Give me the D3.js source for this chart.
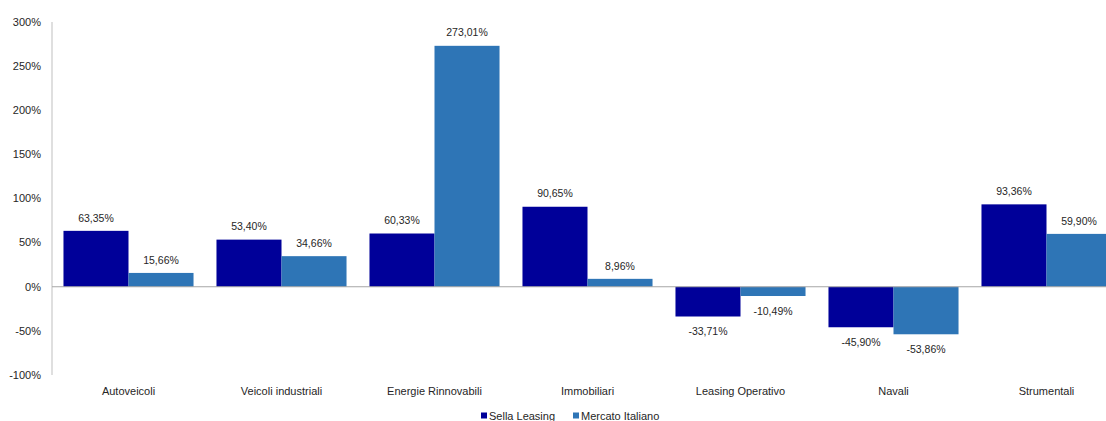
<!DOCTYPE html>
<html>
<head>
<meta charset="utf-8">
<script src="https://cdn.jsdelivr.net/npm/d3@7"></script>
<style>
  body { margin: 0; background: #fff; }
  svg { display: block; font-family: "Liberation Sans", Arial, sans-serif; }
</style>
</head>
<body>
<svg id="chart" width="1106" height="421"></svg>
<script>
// Year-on-year change by product line
const categories = ["Autoveicoli", "Veicoli industriali", "Energie Rinnovabili", "Immobiliari", "Leasing Operativo", "Navali", "Strumentali"];
const seriesNames = ["Sella Leasing", "Mercato Italiano"];
const sellaLeasing = [63.35, 53.40, 60.33, 90.65, -33.71, -45.90, 93.36];
const mercatoItaliano = [15.66, 34.66, 273.01, 8.96, -10.49, -53.86, 59.90];
const yTicks = [-100, -50, 0, 50, 100, 150, 200, 250, 300];
const colors = ["#000099", "#2E75B6"];

const svg = d3.select("#chart");
const plotLeft = 52, plotRight = 1123, plotTop = 22, plotBottom = 375;

const x = d3.scaleBand().domain(categories).range([plotLeft, plotRight])
  .paddingInner(0.15).paddingOuter(0.075);
const xs = d3.scaleBand().domain(seriesNames).range([0, x.bandwidth()]);
const y = d3.scaleLinear().domain([-100, 300]).range([plotBottom, plotTop]);

// Italian-style number: comma decimal, plain hyphen minus
const fmt = v => d3.format(".2f")(v).replace(".", ",").replace("\u2212", "-") + "%";

// y axis labels
svg.append("g").selectAll("text").data(yTicks).join("text")
  .attr("x", plotLeft - 11).attr("y", d => y(d)).attr("dy", "0.35em")
  .attr("text-anchor", "end").attr("font-size", 11).attr("fill", "#262626")
  .text(d => d + "%");

// bars
const rows = categories.map((c, i) => ({ c, vals: [sellaLeasing[i], mercatoItaliano[i]] }));
const groups = svg.append("g").selectAll("g").data(rows).join("g")
  .attr("transform", d => `translate(${x(d.c)},0)`);

groups.selectAll("rect").data(d => d.vals.map((v, j) => ({ v, j })))
  .join("rect")
  .attr("x", d => xs(seriesNames[d.j]))
  .attr("width", xs.bandwidth())
  .attr("y", d => y(Math.max(0, d.v)))
  .attr("height", d => Math.abs(y(d.v) - y(0)))
  .attr("fill", d => colors[d.j]);

groups.selectAll("text.val").data(d => d.vals.map((v, j) => ({ v, j })))
  .join("text").attr("class", "val")
  .attr("x", d => xs(seriesNames[d.j]) + xs.bandwidth() / 2)
  .attr("y", d => d.v >= 0 ? y(d.v) - 13 : y(d.v) + 15)
  .attr("dy", "0.35em")
  .attr("text-anchor", "middle").attr("font-size", 10.5).attr("fill", "#262626")
  .text(d => fmt(d.v));

// axis lines
svg.append("line").attr("x1", plotLeft).attr("x2", plotLeft).attr("y1", plotTop).attr("y2", plotBottom)
  .attr("stroke", "#bfbfbf").attr("stroke-width", 1);
svg.append("line").attr("x1", plotLeft).attr("x2", 1106).attr("y1", y(0)).attr("y2", y(0))
  .attr("stroke", "#a6a6a6").attr("stroke-width", 1);

// category labels
svg.append("g").selectAll("text").data(categories).join("text")
  .attr("x", d => x(d) + x.bandwidth() / 2).attr("y", 391).attr("dy", "0.35em")
  .attr("text-anchor", "middle").attr("font-size", 11).attr("fill", "#262626")
  .text(d => d);

// legend
const legendX = [481, 573];
const lg = svg.append("g").selectAll("g").data(seriesNames).join("g")
  .attr("transform", (d, i) => `translate(${legendX[i]},416)`);
lg.append("rect").attr("x", 0).attr("y", -3.5).attr("width", 6).attr("height", 6)
  .attr("fill", (d, i) => colors[i]);
lg.append("text").attr("x", 8).attr("y", 0).attr("dy", "0.35em")
  .attr("font-size", 11).attr("fill", "#262626").text(d => d);
</script>
</body>
</html>
